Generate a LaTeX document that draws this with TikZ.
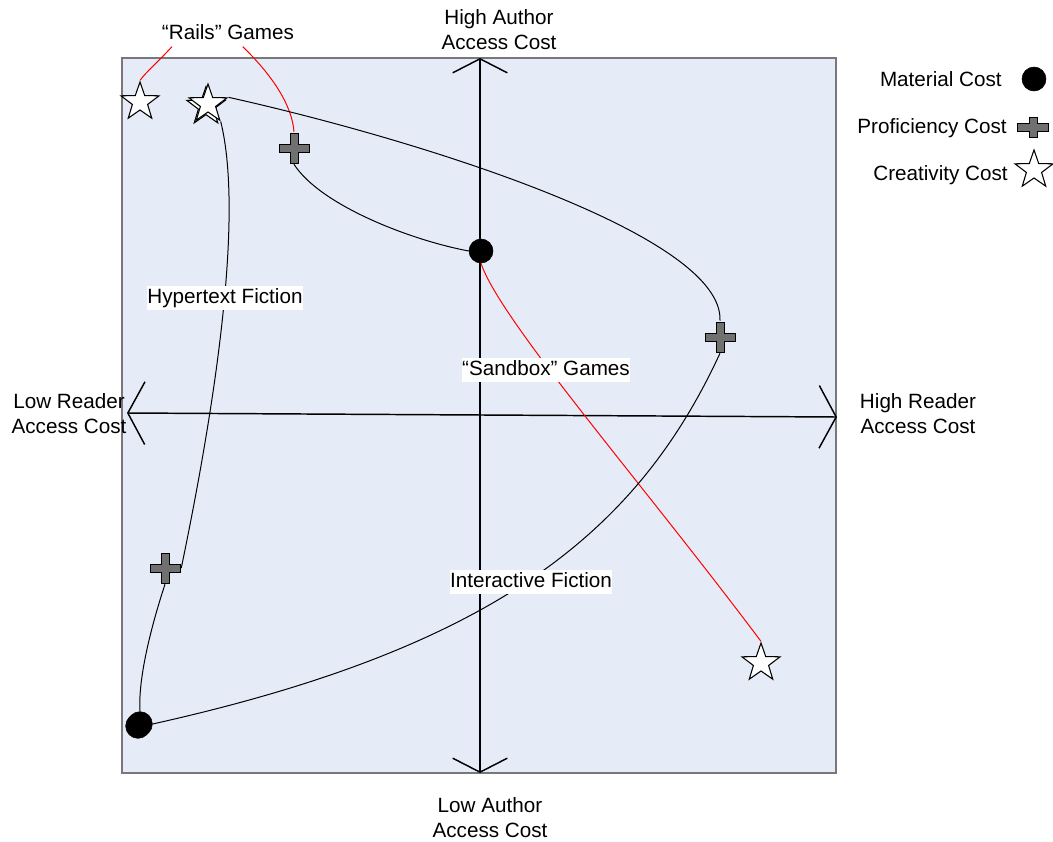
\documentclass[tikz,border=0pt]{standalone}
\usepackage{fontspec}
\setmainfont{Liberation Sans}
\usepackage{xcolor}
\usepackage{tikz}
\usetikzlibrary{arrows.meta,shapes.geometric,shadows,calc}

\definecolor{plotbg}{RGB}{230,236,247}
\definecolor{plotframe}{RGB}{120,120,120}
\definecolor{plusgray}{RGB}{112,112,112}

% #1 = horizontal arm length, #2 = vertical arm length (beyond the 3pt core)
\newcommand{\plusglyph}[2]{%
  \filldraw[fill=plusgray, draw=black, line width=0.7pt]
    ([shift={(-3pt,#2+3pt)}]path picture bounding box.center)
    -- ++(6pt,0pt) -- ++(0pt,-#2) -- ++(#1,0pt) -- ++(0pt,-6pt)
    -- ++(-#1,0pt) -- ++(0pt,-#2) -- ++(-6pt,0pt) -- ++(0pt,#2)
    -- ++(-#1,0pt) -- ++(0pt,6pt) -- ++(#1,0pt) -- cycle;}

\begin{document}
\begin{tikzpicture}[x=0.75pt, y=-0.75pt, >=latex,
    every node/.style={font=\fontsize{15.5pt}{18.75pt}\selectfont}]
    \tikzstyle{lbl} = [fill=white, inner xsep=0pt, inner ysep=1.5pt, text height=12pt, text depth=3.5pt]
    \tikzstyle{axislbl} = [align=center, inner sep=0pt]
    \tikzstyle{axis} = [draw, line width=1.1pt]
    \tikzstyle{matcost} = [circle, draw=black, fill=black, minimum size=18pt, inner sep=0pt]
    \tikzstyle{profcost} = [rectangle, minimum size=24pt, inner sep=0pt, path picture={\plusglyph{8.25pt}{8.25pt}}]
    \tikzstyle{creacost} = [star, star points=5, star point ratio=2.5, draw=black, fill=white, line width=0.8pt, minimum size=30pt, inner sep=0pt]
    \tikzstyle{link} = [draw, line width=0.75pt]
    \tikzstyle{redlink} = [draw=red, line width=0.75pt]

    \useasboundingbox (0,0) rectangle (1053,842);

    \node [draw=plotframe, line width=1.2pt, fill=plotbg, rectangle, minimum width=535.5pt, minimum height=536.25pt, inner sep=0pt] (plot) at (479,415.5) {};

    \coordinate (atop) at (480,58);
    \coordinate (abot) at (480,773);
    \coordinate (alft) at (127,413);
    \coordinate (argt) at (837,417);
    \draw [axis, {Straight Barb[length=10.5pt,width=41pt]}-{Straight Barb[length=10.5pt,width=41pt]}] (abot) -- (atop);
    \draw [axis, {Straight Barb[length=12.75pt,width=47pt]}-{Straight Barb[length=12.75pt,width=47pt]}] (alft) -- (argt);

    \node [axislbl] (hiauth) at (499,30) {High Author\\Access Cost};
    \node [axislbl] (loauth) at (490,818) {Low Author\\Access Cost};
    \node [axislbl] (lordr) at (69,414) {Low Reader\\Access Cost};
    \node [axislbl] (hirdr) at (918,414) {High Reader\\Access Cost};

    \node [matcost] (mc1) at (481,251) {};
    \node [matcost, minimum size=18.5pt, copy shadow={shadow xshift=-1.5pt, shadow yshift=-1.5pt}] (mc2) at (140,724) {};
    \node [profcost] (pc1) at (294,148) {};
    \node [profcost] (pc2) at (720,337) {};
    \node [profcost] (pc3) at (165,568) {};
    \node [creacost] (cc1) at (140,102) {};
    \node [creacost, copy shadow={shadow xshift=-1.5pt, shadow yshift=-2pt}] (cc2) at (208,104) {};
    \node [creacost] (cc3) at (761,663) {};

    \node [lbl] (rails) at (228,34) {“Rails” Games};
    \draw [redlink] ([xshift=-42pt]rails.south) .. controls (158,62) and (146,72) .. (cc1.north);
    \draw [redlink] ([xshift=11pt]rails.south) .. controls (272,75) and (292,105) .. (pc1.north);

    \draw [link] (pc1.south) .. controls (320,205) and (410,240) .. (mc1.west);
    \draw [redlink] (mc1.south) .. controls (500,320) and (640,480) .. (cc3.north);
    \draw [link] (cc2.-54) .. controls (245,220) and (212,420) .. (pc3.east);
    \draw [link] (pc3.south) .. controls (150,630) and (138,680) .. (mc2.north);
    \draw [link] (mc2.east) .. controls (494,648) and (637,533) .. (pc2.south);
    \draw [link] (pc2.north) .. controls (724,235) and (420,140) .. (cc2.18);

    \node [lbl] (hypfic) at (225,298) {Hypertext Fiction};
    \node [lbl] (sandbox) at (546,370) {“Sandbox” Games};
    \node [lbl] (intfic) at (531,582) {Interactive Fiction};

    \node [matcost] (lgmc) at (1034,79) {};
    \node [profcost, minimum height=17pt, path picture={\plusglyph{8.6pt}{4.5pt}}] (lgpc) at (1033,127) {};
    \node [creacost] (lgcc) at (1034,170) {};
    \node [anchor=east, inner sep=0pt] (lgmctxt) at (1002,79) {Material Cost};
    \node [anchor=east, inner sep=0pt] (lgpctxt) at (1007,128) {Proficiency Cost};
    \node [anchor=east, inner sep=0pt] (lgcctxt) at (1008,175) {Creativity Cost};
\end{tikzpicture}
\end{document}
